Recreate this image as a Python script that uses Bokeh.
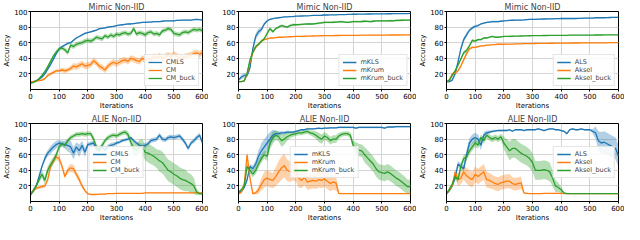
from bokeh.plotting import figure
from bokeh.layouts import gridplot
from bokeh.embed import file_html
from bokeh.resources import INLINE

iters = list(range(0, 601, 10))
x_ticks = [0, 100, 200, 300, 400, 500, 600]
y_ticks = [20, 40, 60, 80, 100]
titles = ["Mimic Non-IID", "Mimic Non-IID", "Mimic Non-IID", "ALIE Non-IID", "ALIE Non-IID", "ALIE Non-IID"]
labels_cm = ["CMLS", "CM", "CM_buck"]
labels_krum = ["mKLS", "mKrum", "mKrum_buck"]
labels_aksel = ["ALS", "Aksel", "Aksel_buck"]

# ---- Mimic, CM family
mimic_cmls = [10,10,11,13,16,20,26,32,39,46, 52,55,57,59,60,63,66,68,70,72, 73,74,75,76,78,78.5,79,80,80.5,81,
              82,82.5,83,83.5,84,84,84.5,85,85.5,86, 86,86.5,86.5,87,87,87,87.5,88,88,88, 88,88.5,88.5,89,89,89,89,89.5,90,89.5, 89]
mimic_cmls_sd = [1,1,1,1.5,1.5,1.5,1.5,1.5,1.5,1.5, 1.5,1.5,1.5,1.5,1,1,1,1,1,1, 1,1,1,1,1,1,1,1,1,1,
                 0.8,0.8,0.8,0.8,0.8,0.8,0.8,0.8,0.8,0.8, 0.8,0.8,0.8,0.8,0.8,0.8,0.8,0.8,0.8,0.8, 0.8,0.8,0.8,0.8,0.8,0.8,0.8,0.8,0.8,0.8, 0.8]
mimic_cm = [10,10,11,11.5,12,14,18,20,22,24, 24,25,24,25,27,30,29,31,33,30, 31,32,37,34,30,28,25,30,33,35,
            33,35,37,38,36,40,39,37,36,40, 38,40,38,42,41,43,40,42,44,42, 45,43,40,41,42,43,44,46,47,45, 48]
mimic_cm_sd = [1,1,1,1,1,1.5,2,2,2,2, 2,3,3,3,3,4,4,4,4,4, 4,4,4,4,4,4,4,4,4,4,
               4,4,4,4,4,4,4,4,4,4, 4,4,4,4,4,4,4,4,4,4, 4,4,4,4,4,4,4,4,4,4, 4]
mimic_cmbuck = [8,9,11,14,18,23,29,36,43,48, 52,53,51,47,57,55,58,59,60,62, 63,62,64,67,66,65,69,67,70,68,
                71,70,72,73,71,72,78,71,73,72, 70,73,74,71,72,70,75,76,78,77, 72,71,70,73,74,73,75,77,76,77, 75]
mimic_cmbuck_sd = [1,1,1,1.5,2,2,2.5,2.5,2.5,2.5, 2.5,2.5,3,3,3,3,3,3,3,3, 3,3,3,3,3,3,3,3,3,3,
                   3,3,3,3,3,3,3,3,3,3, 3,3,3,3,3,3,3,3,3,3, 3,3,3,3,3,3,3,3,3,3, 3]

# ---- Mimic, Krum family
mimic_mkls = [12,16,18,18,28,52,68,74,77,84, 88,90,91,91.5,92,92.5,93,93,93.5,93.5, 94,94,94.2,94.3,94.5,94.6,95,95,95,95.2,
              95.5,95.5,95.6,95.7,95.8,96,96,96,96.2,96.3, 96.5,96.5,96.6,96.6,96.7,96.8,96.8,96.9,96.9,97, 97,97,97.1,97.1,97.2,97.2,97.3,97.3,97.4,97.4, 97.5]
mimic_mkls_sd = [1,3,3,3,3,3,4,4,3,2, 1,1,0.8,0.8,0.6,0.6,0.6,0.6,0.6,0.6, 0.5,0.5,0.5,0.5,0.5,0.5,0.5,0.5,0.5,0.5,
                 0.5,0.5,0.5,0.5,0.5,0.5,0.5,0.5,0.5,0.5, 0.5,0.5,0.5,0.5,0.5,0.5,0.5,0.5,0.5,0.5, 0.5,0.5,0.5,0.5,0.5,0.5,0.5,0.5,0.5,0.5, 0.5]
mimic_mkrum = [10,10,11,20,35,47,54,58,62,64, 65,66,66,66.5,67,67,67.2,67.4,67.6,67.8, 68,68.1,68.2,68.3,68.4,68.5,68.6,68.7,68.8,68.9,
               69,69,69.1,69.1,69.2,69.2,69.3,69.3,69.4,69.4, 69.5,69.5,69.5,69.6,69.6,69.6,69.7,69.7,69.7,69.8, 69.8,69.8,69.8,69.9,69.9,69.9,69.9,70,70,70, 70]
mimic_mkrum_sd = [0.5,0.5,1,1.5,1.5,1.5,1.5,1,1,0.8, 0.6,0.5,0.5,0.5,0.5,0.5,0.5,0.5,0.5,0.5, 0.4,0.4,0.4,0.4,0.4,0.4,0.4,0.4,0.4,0.4,
                  0.4,0.4,0.4,0.4,0.4,0.4,0.4,0.4,0.4,0.4, 0.4,0.4,0.4,0.4,0.4,0.4,0.4,0.4,0.4,0.4, 0.4,0.4,0.4,0.4,0.4,0.4,0.4,0.4,0.4,0.4, 0.4]
mimic_mkrumbuck = [10,10,11,21,38,48,55,58,62,65, 72,78,74,78,80,82,81,80,82,83, 83,83.2,83.5,83.8,84,84,84,84.5,85,85.5,
                   86,86,86,86.2,86.5,86.8,87,86.5,86,86.5, 87,87,87,87.2,87.5,87.3,87,87.5,88,88, 88,88,88,88.2,88,88.5,88.5,88.8,89,89, 89]
mimic_mkrumbuck_sd = [0.5,0.5,1,1.5,2,2,2,2,2,2, 2,2,2,1.5,1.5,1.5,1.5,1.5,1.5,1.5, 1.2,1.2,1.2,1.2,1.2,1.2,1.2,1.2,1.2,1.2,
                      1.2,1.2,1.2,1.2,1.2,1.2,1.2,1.2,1.2,1.2, 1.2,1.2,1.2,1.2,1.2,1.2,1.2,1.2,1.2,1.2, 1.2,1.2,1.2,1.2,1.2,1.2,1.2,1.2,1.2,1.2, 1.2]

# ---- Mimic, Aksel family
mimic_als = [10,10,12,20,35,52,64,70,76,79, 81,82,84,85,86,86.5,87,87,87,87.5, 88,88.2,88.5,88.8,89,89,89,89.2,89.5,89.8,
             90,90,90.2,90.3,90.4,90.5,90.5,90.6,90.8,90.9, 91,91,91,91,91,91,91.2,91.3,91.4,91.5, 91.5,91.6,92,92,92,92,92.2,92.3,92.4,92.4, 92.5]
mimic_als_sd = [1,1,1,1.5,2,3,3,3,2,2, 1.5,1.5,1,1,1,1,1,1,1,1, 0.8,0.8,0.8,0.8,0.8,0.8,0.8,0.8,0.8,0.8,
                0.8,0.8,0.8,0.8,0.8,0.8,0.8,0.8,0.8,0.8, 0.8,0.8,0.8,0.8,0.8,0.8,0.8,0.8,0.8,0.8, 0.8,0.8,0.8,0.8,0.8,0.8,0.8,0.8,0.8,0.8, 0.8]
mimic_aksel = [10,12,20,21,24,30,38,46,52,54, 54,55,56,56,57,57,57.5,57.7,58,58, 58,58.1,58.2,58.3,58.4,58.5,58.6,58.7,58.8,58.9,
               59,59,59.1,59.1,59.2,59.2,59.3,59.3,59.4,59.4, 59.5,59.5,59.5,59.5,59.6,59.6,59.6,59.7,59.7,59.7, 59.8,59.8,59.8,59.8,59.9,59.9,59.9,60,60,60, 60]
mimic_aksel_sd = [1,1.5,2,2,2,2,2,2,1.5,1.5, 1,1,0.8,0.8,0.6,0.6,0.5,0.5,0.5,0.5, 0.4,0.4,0.4,0.4,0.4,0.4,0.4,0.4,0.4,0.4,
                  0.4,0.4,0.4,0.4,0.4,0.4,0.4,0.4,0.4,0.4, 0.4,0.4,0.4,0.4,0.4,0.4,0.4,0.4,0.4,0.4, 0.4,0.4,0.4,0.4,0.4,0.4,0.4,0.4,0.4,0.4, 0.4]
mimic_akselbuck = [10,12,18,24,31,39,47,50,56,63, 62,64,64,66,66,67,68,67,67,67.5, 68,68.1,68.2,68.3,68.4,68.5,68.6,68.7,68.8,68.9,
                   69,69,69.1,69.1,69.2,69.2,69.3,69.3,69.4,69.4, 69.5,69.5,69.5,69.6,69.6,69.6,69.7,69.7,69.7,69.8, 69.8,69.8,69.9,69.9,69.9,70,70,70,70,70, 70]
mimic_akselbuck_sd = [1,1.5,2,2,2,2,2.5,2.5,2,2, 1.5,1.5,1.2,1.2,1,1,1,1,1,1, 0.6,0.6,0.6,0.6,0.6,0.6,0.6,0.6,0.6,0.6,
                      0.5,0.5,0.5,0.5,0.5,0.5,0.5,0.5,0.5,0.5, 0.5,0.5,0.5,0.5,0.5,0.5,0.5,0.5,0.5,0.5, 0.5,0.5,0.5,0.5,0.5,0.5,0.5,0.5,0.5,0.5, 0.5]

# ---- ALIE, CM family
alie_cmls = [10,14,20,32,45,55,62,66,70,73, 75,74,73,72,70,62,70,65,72,63, 73,74,75,67,68,70,66,70,72,73,
             75,76,78,79,80,82,78,75,72,71, 72,74,78,79,80,85,80,79,82,83, 82,83,84,80,75,68,75,78,82,85, 75]
alie_cmls_sd = [1,2,2,3,3,4,4,5,5,5, 4,4,5,8,8,8,6,8,6,6, 3,3,3,3,3,3,3,3,3,3,
                2,2,2,2,2,2,2,2,3,3, 3,3,3,3,3,3,3,3,3,3, 3,3,3,3,3,3,3,3,3,3, 3]
alie_cm = [10,14,17,18,19,20,28,45,53,57, 55,45,32,40,43,42,35,28,20,14, 10,9,9,9,9.5,9.5,9.5,10,10,10,
           10.5,10.5,10.5,10.5,10.5,10.5,10.5,10.5,10.5,10.5, 11,11,11,11,11,11,11,11,11,11, 11,11,11,11,11,11,11,11,11,11, 11]
alie_cm_sd = [1,2,2,2,2,2,3,4,4,4, 4,4,3,4,5,5,4,4,3,2, 1,0.5,0.5,0.5,0.5,0.5,0.5,0.5,0.5,0.5,
              0.5,0.5,0.5,0.5,0.5,0.5,0.5,0.5,0.5,0.5, 0.5,0.5,0.5,0.5,0.5,0.5,0.5,0.5,0.5,0.5, 0.5,0.5,0.5,0.5,0.5,0.5,0.5,0.5,0.5,0.5, 0.5]
alie_cmbuck = [8,14,20,28,35,27,40,47,52,60, 70,74,72,78,82,84,86,86,87,86, 87,87,80,70,65,72,78,82,84,85,
               84,86,88,89,86,76,68,66,71,70, 63,62,60,58,55,52,50,45,40,38, 35,33,30,28,27,25,23,20,12,10, 10]
alie_cmbuck_sd = [1,3,3,4,5,5,5,5,5,4, 4,3,3,3,3,3,3,3,3,3, 3,3,4,4,4,4,3,3,3,3,
                  3,3,3,3,4,6,8,8,8,10, 10,12,12,12,12,14,14,14,14,14, 14,14,14,14,14,12,12,10,4,2, 2]

# ---- ALIE, Krum family
alie_mkls = [10,13,18,28,45,42,48,58,65,70, 75,80,85,87,87,88,88,89,89,89, 90,91,92,92,93,93,93,93.5,94,93.5,
             94,94,94.5,94.5,94.5,95,95,95,95,95, 95,94,95,95,95,95,95,95,95,95, 95,94,95.5,95.5,95.5,96,96,96,96,96, 96]
alie_mkls_sd = [1,2,2,3,3,4,5,8,10,10, 10,9,7,4,3,2,2,2,1.5,1.5, 1,1,1,1,1,1,1,1,1,1,
                1,1,1,1,1,1,1,1,1,1, 1,1,1,1,1,1,1,1,1,1, 1,1,1,1,1,1,1,1,1,1, 1]
alie_mkrum = [10,12,22,60,30,10,11,15,22,28, 30,28,27,32,38,43,46,40,38,39, 38,30,27,31,25,26,27,26,28,27,
              29,26,23,25,24,10,10,10,10,10, 10,10,10,10,10,10,10,10,10,10, 10,10,10,10,10,10,10,10,10,10, 10]
alie_mkrum_sd = [1,2,3,4,4,1,2,5,8,10, 10,10,10,12,14,15,15,14,13,12, 12,12,10,10,10,10,10,10,10,10,
                 10,10,10,10,10,0.5,0.5,0.5,0.5,0.5, 0.5,0.5,0.5,0.5,0.5,0.5,0.5,0.5,0.5,0.5, 0.5,0.5,0.5,0.5,0.5,0.5,0.5,0.5,0.5,0.5, 0.5]
alie_mkrumbuck = [12,15,20,45,40,35,40,48,55,60, 58,75,82,85,83,78,80,83,85,86, 87,88,88,89,90,88,87,85,82,80,
                  84,82,78,80,80,84,86,87,87,85, 72,68,66,65,60,56,52,48,42,38, 37,36,38,36,33,30,28,25,22,19, 19]
alie_mkrumbuck_sd = [1,2,3,4,4,4,5,5,5,5, 6,8,8,6,6,8,7,5,4,3, 3,3,3,3,3,3,4,5,6,6,
                     5,5,5,5,5,4,3,3,3,4, 6,8,8,8,10,10,10,10,10,10, 10,10,10,10,10,10,10,10,10,9, 9]

# ---- ALIE, Aksel family
alie_als = [10,14,20,30,48,45,42,60,75,80, 82,80,72,85,88,89,90,90.5,91,91, 91,91,92,90,92,92,92,91,92,92,
            92,92,93,92,91,92,93,93,92,92, 91,90,87,92,93,92,92,93,92,92, 92,90,88,78,75,76,74,72,70,68, 58]
alie_als_sd = [1,2,2,3,4,4,4,6,6,6, 6,6,6,4,3,2,1.5,1.5,1,1, 1,1,1,1,1,1,1,1,1,1,
               1,1,1,1,1,1,1,1,1,1, 1,1,1.5,1,1,1,1,1,1,1, 1,3,8,12,14,14,14,14,14,14, 14]
alie_aksel = [10,15,20,38,28,30,38,33,30,28, 35,32,35,38,28,27,25,23,22,24, 25,26,26,23,22,23,24,11,10.5,10,
              10,10,10,10,10.5,10.5,10.5,10.5,10.5,10.5, 10.5,10,10,10,10,10,10,10,10,10, 10,10,10,10,10,10,10,10,10,10, 10]
alie_aksel_sd = [1,2,3,4,8,8,10,10,10,10, 10,10,10,10,10,10,9,9,9,9, 9,9,9,8,8,8,8,1,0.5,0.5,
                 0.5,0.5,0.5,0.5,0.5,0.5,0.5,0.5,0.5,0.5, 0.5,0.5,0.5,0.5,0.5,0.5,0.5,0.5,0.5,0.5, 0.5,0.5,0.5,0.5,0.5,0.5,0.5,0.5,0.5,0.5, 0.5]
alie_akselbuck = [10,16,22,32,28,45,55,57,65,70, 75,72,82,78,85,82,80,82,80,83, 75,70,65,68,68,65,62,60,58,55,
                  50,40,40,40,41,40,38,30,20,18, 15,11,10,10,10,10,10,10,10,10, 10,10,10,10,10,10,10,10,10,10, 10]
alie_akselbuck_sd = [1,2,3,4,4,4,5,5,5,5, 5,4,4,4,4,4,4,4,4,4, 8,10,12,12,12,12,12,12,12,12,
                     12,12,12,12,12,12,12,10,8,6, 4,1,0.5,0.5,0.5,0.5,0.5,0.5,0.5,0.5, 0.5,0.5,0.5,0.5,0.5,0.5,0.5,0.5,0.5,0.5, 0.5]

colors = ["#1f77b4", "#ff7f0e", "#2ca02c"]
FONT = "DejaVu Sans"


def make(title, labels, series, sds, loc):
    p = figure(width=208, height=112, x_range=(0, 600), y_range=(0, 100),
               output_backend="svg", toolbar_location=None, title=title,
               min_border_left=2, min_border_right=6, min_border_top=0, min_border_bottom=1)
    p.title.text_font = FONT
    p.title.text_font_size = "8px"
    p.title.text_font_style = "normal"
    p.title.align = "center"
    p.title.offset = 0
    p.title.standoff = 0
    for lab, vals, sd, col in zip(labels, series, sds, colors):
        lo = [v - s for v, s in zip(vals, sd)]
        hi = [v + s for v, s in zip(vals, sd)]
        p.varea(x=iters, y1=lo, y2=hi, fill_color=col, fill_alpha=0.35)
    for lab, vals, col in zip(labels, series, colors):
        p.line(iters, vals, line_color=col, line_width=1.3, legend_label=lab)
    p.xaxis.ticker = x_ticks
    p.yaxis.ticker = y_ticks
    p.xaxis.axis_label = "Iterations"
    p.yaxis.axis_label = "Accuracy"
    for ax in [p.xaxis[0], p.yaxis[0]]:
        ax.axis_label_text_font = FONT
        ax.axis_label_text_font_size = "7px"
        ax.axis_label_text_font_style = "normal"
        ax.axis_label_text_color = "black"
        ax.axis_label_standoff = 0
        ax.major_label_text_font = FONT
        ax.major_label_text_font_size = "7px"
        ax.major_label_text_color = "black"
        ax.major_label_standoff = 1
        ax.major_tick_out = 2
        ax.major_tick_in = 0
        ax.minor_tick_line_color = None
        ax.axis_line_color = "black"
        ax.major_tick_line_color = "black"
    p.xgrid.grid_line_color = "#d4d4d4"
    p.ygrid.grid_line_color = "#d4d4d4"
    p.outline_line_color = "black"
    p.outline_line_alpha = 1
    lg = p.legend[0]
    lg.location = loc
    lg.label_text_font = FONT
    lg.label_text_font_size = "6.5px"
    lg.glyph_width = 14
    lg.glyph_height = 8
    lg.label_height = 8
    lg.label_standoff = 4
    lg.spacing = 0
    lg.padding = 3
    lg.margin = 3
    lg.border_line_color = "#cccccc"
    lg.background_fill_alpha = 0.85
    return p


p1 = make(titles[0], labels_cm, [mimic_cmls, mimic_cm, mimic_cmbuck],
          [mimic_cmls_sd, mimic_cm_sd, mimic_cmbuck_sd], "bottom_right")
p2 = make(titles[1], labels_krum, [mimic_mkls, mimic_mkrum, mimic_mkrumbuck],
          [mimic_mkls_sd, mimic_mkrum_sd, mimic_mkrumbuck_sd], "bottom_right")
p3 = make(titles[2], labels_aksel, [mimic_als, mimic_aksel, mimic_akselbuck],
          [mimic_als_sd, mimic_aksel_sd, mimic_akselbuck_sd], "bottom_right")
p4 = make(titles[3], labels_cm, [alie_cmls, alie_cm, alie_cmbuck],
          [alie_cmls_sd, alie_cm_sd, alie_cmbuck_sd], "center")
p5 = make(titles[4], labels_krum, [alie_mkls, alie_mkrum, alie_mkrumbuck],
          [alie_mkls_sd, alie_mkrum_sd, alie_mkrumbuck_sd], "center")
p6 = make(titles[5], labels_aksel, [alie_als, alie_aksel, alie_akselbuck],
          [alie_als_sd, alie_aksel_sd, alie_akselbuck_sd], "center_right")

grid = gridplot([[p1, p2, p3], [p4, p5, p6]], toolbar_location=None)

open("out.html", "w").write(file_html(grid, INLINE))
